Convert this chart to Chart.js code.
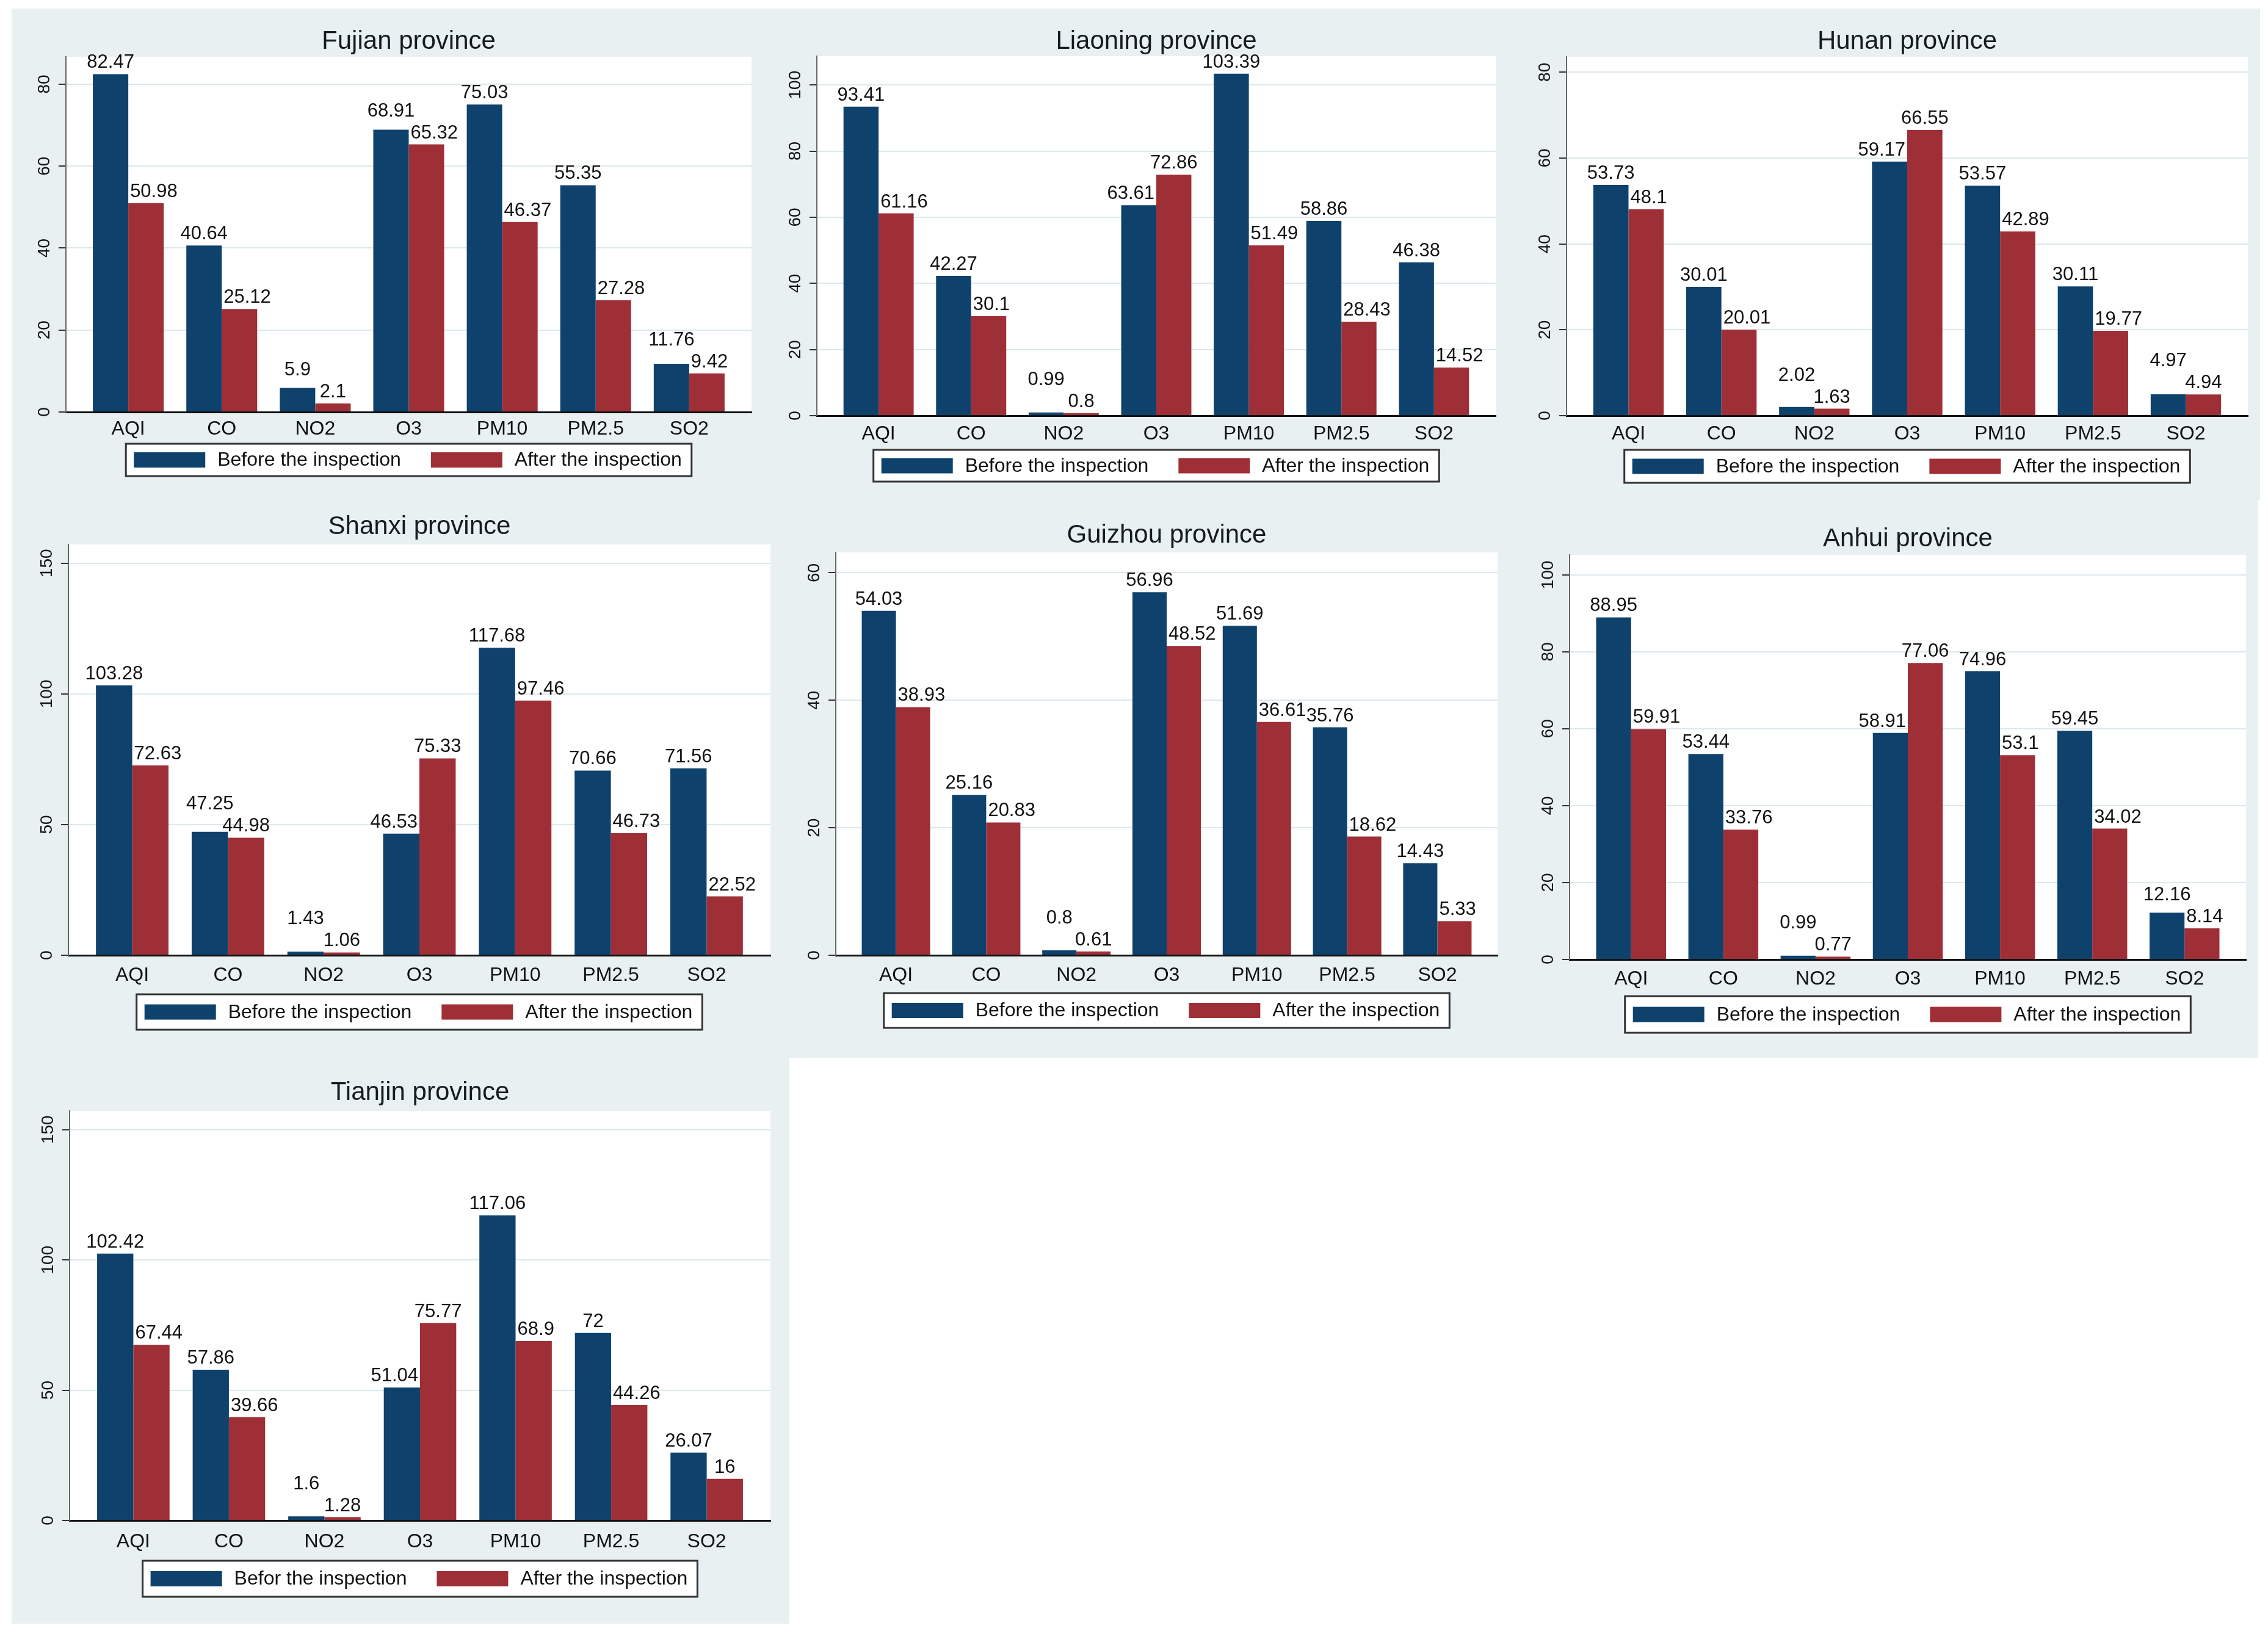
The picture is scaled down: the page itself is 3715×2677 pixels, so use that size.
<!DOCTYPE html>
<html>
<head>
<meta charset="utf-8">
<title>Before and after the inspection</title>
<script src="https://cdn.jsdelivr.net/npm/chart.js@4.4.1/dist/chart.umd.min.js"></script>
<style>
  body { margin: 0; background: #ffffff; width: 3715px; height: 2677px; position: relative; overflow: hidden; }
  .fundo { position: absolute; background: #e8f0f2; }
  canvas { position: absolute; }
</style>
</head>
<body>
<div class="fundo" style="left:19px;top:14px;width:3683px;height:805px"></div>
<div class="fundo" style="left:19px;top:819px;width:3680px;height:914px"></div>
<div class="fundo" style="left:19px;top:1733px;width:1274px;height:927px"></div>
<script>
// Categorias (poluentes)
const categorias = ['AQI', 'CO', 'NO2', 'O3', 'PM10', 'PM2.5', 'SO2'];

// Valores antes / depois da inspeção
const fujianAntes = [82.47, 40.64, 5.9, 68.91, 75.03, 55.35, 11.76];
const fujianDepois = [50.98, 25.12, 2.1, 65.32, 46.37, 27.28, 9.42];
const liaoningAntes = [93.41, 42.27, 0.99, 63.61, 103.39, 58.86, 46.38];
const liaoningDepois = [61.16, 30.1, 0.8, 72.86, 51.49, 28.43, 14.52];
const hunanAntes = [53.73, 30.01, 2.02, 59.17, 53.57, 30.11, 4.97];
const hunanDepois = [48.1, 20.01, 1.63, 66.55, 42.89, 19.77, 4.94];
const shanxiAntes = [103.28, 47.25, 1.43, 46.53, 117.68, 70.66, 71.56];
const shanxiDepois = [72.63, 44.98, 1.06, 75.33, 97.46, 46.73, 22.52];
const guizhouAntes = [54.03, 25.16, 0.8, 56.96, 51.69, 35.76, 14.43];
const guizhouDepois = [38.93, 20.83, 0.61, 48.52, 36.61, 18.62, 5.33];
const anhuiAntes = [88.95, 53.44, 0.99, 58.91, 74.96, 59.45, 12.16];
const anhuiDepois = [59.91, 33.76, 0.77, 77.06, 53.1, 34.02, 8.14];
const tianjinAntes = [102.42, 57.86, 1.6, 51.04, 117.06, 72, 26.07];
const tianjinDepois = [67.44, 39.66, 1.28, 75.77, 68.9, 44.26, 16];

// Marcas do eixo y
const ticks60 = [0, 20, 40, 60];
const ticks80 = [0, 20, 40, 60, 80];
const ticks100 = [0, 20, 40, 60, 80, 100];
const ticks150 = [0, 50, 100, 150];

const azul = '#0e426c';
const vermelho = '#9f2f37';
const fonte = '"Liberation Sans", Arial, sans-serif';

// Posição de cada painel: area = [esquerda, topo, direita, base]
const paineis = [
  { titulo: 'Fujian province', antes: fujianAntes, depois: fujianDepois, marcas: ticks80, yMax: 86.7,
    area: [108, 93, 1231, 675], gapTitulo: 25, gapRotulo: 28, gapLegenda: 52, altLegenda: 53, nomeAntes: 'Before the inspection' },
  { titulo: 'Liaoning province', antes: liaoningAntes, depois: liaoningDepois, marcas: ticks100, yMax: 108.7,
    area: [1338, 92, 2450, 681], gapTitulo: 24, gapRotulo: 30, gapLegenda: 56, altLegenda: 52, nomeAntes: 'Before the inspection' },
  { titulo: 'Hunan province', antes: hunanAntes, depois: hunanDepois, marcas: ticks80, yMax: 83.6,
    area: [2566, 93, 3682, 681], gapTitulo: 25, gapRotulo: 30, gapLegenda: 56, altLegenda: 54, nomeAntes: 'Before the inspection' },
  { titulo: 'Shanxi province', antes: shanxiAntes, depois: shanxiDepois, marcas: ticks150, yMax: 157.2,
    area: [112, 892, 1262, 1565], gapTitulo: 29, gapRotulo: 33, gapLegenda: 64, altLegenda: 58, nomeAntes: 'Before the inspection' },
  { titulo: 'Guizhou province', antes: guizhouAntes, depois: guizhouDepois, marcas: ticks60, yMax: 63.2,
    area: [1369, 905, 2453, 1565], gapTitulo: 28, gapRotulo: 33, gapLegenda: 62, altLegenda: 57, nomeAntes: 'Before the inspection' },
  { titulo: 'Anhui province', antes: anhuiAntes, depois: anhuiDepois, marcas: ticks100, yMax: 105.2,
    area: [2571, 909, 3679, 1572], gapTitulo: 26, gapRotulo: 32, gapLegenda: 60, altLegenda: 60, nomeAntes: 'Before the inspection' },
  { titulo: 'Tianjin province', antes: tianjinAntes, depois: tianjinDepois, marcas: ticks150, yMax: 157.2,
    area: [114, 1820, 1262, 2491], gapTitulo: 30, gapRotulo: 35, gapLegenda: 66, altLegenda: 59, nomeAntes: 'Befor the inspection' }
];

// Medir largura de texto
const medidor = document.createElement('canvas').getContext('2d');
function larguraTexto(texto, tamanho) {
  medidor.font = tamanho + 'px ' + fonte;
  return medidor.measureText(texto).width;
}

// Fundo branco da área do gráfico
const fundoBranco = {
  id: 'fundoBranco',
  beforeDraw(chart) {
    const a = chart.chartArea;
    const ctx = chart.ctx;
    ctx.save();
    ctx.fillStyle = '#ffffff';
    ctx.fillRect(a.left, a.top, a.right - a.left, a.bottom - a.top);
    ctx.restore();
  }
};

// Valores em cima das barras (afastando os que se sobrepõem)
const rotulosBarras = {
  id: 'rotulosBarras',
  afterDatasetsDraw(chart) {
    const ctx = chart.ctx;
    ctx.save();
    ctx.font = '31px ' + fonte;
    ctx.fillStyle = '#111111';
    ctx.textAlign = 'center';
    ctx.textBaseline = 'alphabetic';
    const barrasA = chart.getDatasetMeta(0).data;
    const barrasB = chart.getDatasetMeta(1).data;
    const dadosA = chart.data.datasets[0].data;
    const dadosB = chart.data.datasets[1].data;
    barrasA.forEach((a, j) => {
      const b = barrasB[j];
      const ta = String(dadosA[j].y);
      const tb = String(dadosB[j].y);
      const wa = ctx.measureText(ta).width;
      const wb = ctx.measureText(tb).width;
      let xa = a.x, xb = b.x;
      let ya = a.y - 10, yb = b.y - 10;
      const borda = (a.x + a.width / 2 + b.x - b.width / 2) / 2;
      // rótulo da barra menor não fica por cima da barra maior
      if (a.y < b.y && yb > a.y) xb = Math.max(xb, borda + 3 + wb / 2);
      if (b.y < a.y && ya > b.y) xa = Math.min(xa, borda - 3 - wa / 2);
      // se ainda ficam muito perto, sobe o rótulo da barra maior
      if (xa + wa / 2 + 16 > xb - wb / 2 && Math.abs(ya - yb) < 30) {
        if (a.y <= b.y) ya = yb - 36;
        else yb = ya - 36;
      }
      ctx.fillText(ta, xa, ya);
      ctx.fillText(tb, xb, yb);
    });
    ctx.restore();
  }
};

// Legenda com moldura, centrada sob a área do gráfico
const legendaCaixa = {
  id: 'legendaCaixa',
  afterDraw(chart, args, opts) {
    const ctx = chart.ctx;
    const a = chart.chartArea;
    const ds = chart.data.datasets;
    ctx.save();
    ctx.font = '32px ' + fonte;
    const t1 = ctx.measureText(ds[0].label).width;
    const t2 = ctx.measureText(ds[1].label).width;
    const largura = 13 + 117 + 20 + t1 + 49 + 117 + 20 + t2 + 16;
    const x0 = (a.left + a.right) / 2 - largura / 2;
    const y0 = a.bottom + opts.topo;
    const meio = y0 + opts.altura / 2;
    ctx.fillStyle = '#ffffff';
    ctx.fillRect(x0, y0, largura, opts.altura);
    ctx.strokeStyle = '#333333';
    ctx.lineWidth = 3;
    ctx.strokeRect(x0, y0, largura, opts.altura);
    let x = x0 + 13;
    ctx.textBaseline = 'middle';
    ctx.textAlign = 'left';
    ds.forEach((d, i) => {
      ctx.fillStyle = d.backgroundColor;
      ctx.fillRect(x, meio - 12.5, 117, 25);
      x += 117 + 20;
      ctx.fillStyle = '#111111';
      ctx.fillText(d.label, x, meio + 1);
      x += (i === 0 ? t1 : t2) + 49;
    });
    ctx.restore();
  }
};

// Criar cada painel
paineis.forEach(p => {
  const [esq, topo, dir, base] = p.area;
  const canvas = document.createElement('canvas');
  canvas.width = dir - esq + 120;
  canvas.height = base - topo + 245;
  canvas.style.left = (esq - 100) + 'px';
  canvas.style.top = (topo - 95) + 'px';
  canvas.style.width = canvas.width + 'px';
  canvas.style.height = canvas.height + 'px';
  document.body.appendChild(canvas);

  const maisLarga = Math.max(...p.marcas.map(v => larguraTexto(String(v), 28)));
  const padTitulo = p.gapTitulo - 25.2;

  new Chart(canvas, {
    type: 'bar',
    data: {
      datasets: [
        { label: p.nomeAntes, data: p.antes.map((v, i) => ({ x: i, y: v })), backgroundColor: azul,
          borderWidth: 0, categoryPercentage: 0.758, barPercentage: 1 },
        { label: 'After the inspection', data: p.depois.map((v, i) => ({ x: i, y: v })), backgroundColor: vermelho,
          borderWidth: 0, categoryPercentage: 0.758, barPercentage: 1 }
      ]
    },
    options: {
      responsive: false,
      animation: false,
      devicePixelRatio: 1,
      layout: { padding: { left: 40, top: 95 - 50.4 - padTitulo, right: 20, bottom: 0 } },
      plugins: {
        legend: { display: false },
        tooltip: { enabled: false },
        title: {
          display: true, text: p.titulo, fullSize: false, color: '#161b22',
          font: { family: fonte, size: 42, weight: 'normal' }, padding: { top: 0, bottom: padTitulo }
        },
        legendaCaixa: { topo: p.gapLegenda, altura: p.altLegenda }
      },
      scales: {
        x: {
          type: 'linear', min: -0.667, max: 6.667, offset: false, z: 1,
          afterBuildTicks: s => { s.ticks = categorias.map((c, i) => ({ value: i })); },
          afterFit: s => { s.height = 150; },
          ticks: {
            callback: v => categorias[v], autoSkip: false, maxRotation: 0, minRotation: 0,
            padding: p.gapRotulo - 19.2, color: '#111111', font: { family: fonte, size: 32 }
          },
          grid: { display: false, drawTicks: false },
          border: { display: true, color: '#111111', width: 3 }
        },
        y: {
          min: 0, max: p.yMax,
          afterBuildTicks: s => { s.ticks = p.marcas.map(v => ({ value: v })); },
          afterFit: s => { s.width = 60; },
          ticks: {
            minRotation: 90, maxRotation: 90, crossAlign: 'center', autoSkip: false,
            padding: 23 - maisLarga / 2, color: '#111111', font: { family: fonte, size: 28 }
          },
          grid: { color: '#dde8ec', lineWidth: 2, tickColor: '#333333', tickLength: 12, tickWidth: 2 },
          border: { display: true, color: '#666666', width: 2 }
        }
      }
    },
    plugins: [fundoBranco, rotulosBarras, legendaCaixa]
  });
});
</script>
</body>
</html>
